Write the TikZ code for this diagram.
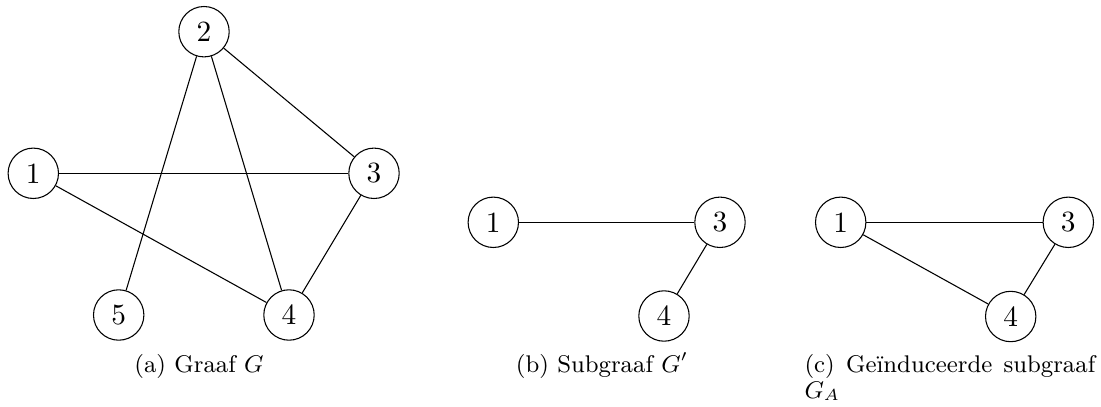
\documentclass[tikz,border=0pt]{standalone}
\begin{document}
\begin{tikzpicture}[x=0.3731pt,y=-0.3731pt,
  vertex/.style={circle, draw, line width=0.4pt, minimum size=18.8pt, inner sep=0pt, font=\fontsize{10.95}{13.6}\selectfont},
  edge/.style={draw, line width=0.4pt},
  capt/.style={font=\fontsize{9}{11}\selectfont, inner sep=0pt}]
\useasboundingbox (0,0) rectangle (1101,407);
% (a)
\node[vertex] (a1) at (33.3,173.3) {1};
\node[vertex] (a2) at (204,31.7) {2};
\node[vertex] (a3) at (374,173.3) {3};
\node[vertex] (a4) at (289,315) {4};
\node[vertex] (a5) at (118.7,315) {5};
\draw[edge] (a1) -- (a3);
\draw[edge] (a1) -- (a4);
\draw[edge] (a2) -- (a5);
\draw[edge] (a2) -- (a4);
\draw[edge] (a2) -- (a3);
\draw[edge] (a3) -- (a4);
\node[capt, anchor=base] (ca) at (199,372) {(a) Graaf $G$};
% (b)
\node[vertex] (b1) at (493.3,222.3) {1};
\node[vertex] (b3) at (720,222.3) {3};
\node[vertex] (b4) at (664,316) {4};
\draw[edge] (b1) -- (b3);
\draw[edge] (b3) -- (b4);
\node[capt, anchor=base] (cb) at (602,372) {(b) Subgraaf $G'$};
% (c)
\node[vertex] (c1) at (840.7,222.3) {1};
\node[vertex] (c3) at (1068.3,222.3) {3};
\node[vertex] (c4) at (1010.7,316.5) {4};
\draw[edge] (c1) -- (c3);
\draw[edge] (c1) -- (c4);
\draw[edge] (c3) -- (c4);
\node[capt, anchor=base west] (cc) at (804,372) {\makebox[108.5pt][s]{(c) Geïnduceerde subgraaf}};
\node[capt, anchor=base west] (cc2) at (804,398) {$G_A$};
\end{tikzpicture}
\end{document}
